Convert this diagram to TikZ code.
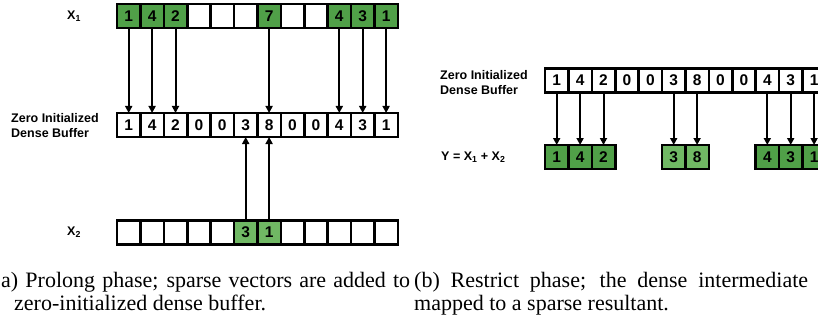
\documentclass[tikz,border=0pt]{standalone}
\usepackage{fontspec}
\setmainfont{Liberation Serif}
\setsansfont{Liberation Sans}
\usetikzlibrary{arrows.meta}
\usepackage{xcolor}

\definecolor{gdark}{RGB}{80,160,72}
\definecolor{glight}{RGB}{112,184,100}

\begin{document}
\begin{tikzpicture}[
    x=1pt, y=-1pt,
    every node/.style={font=\sffamily},
    cell/.style={
        draw=black,
        fill=#1,
        line width=2.6pt,
        minimum width=23.4pt,
        minimum height=24pt,
        inner sep=0pt,
        outer sep=0pt,
        font=\sffamily\bfseries\fontsize{15.5}{15.5}\selectfont,
    },
    cell/.default=white,
    lbl/.style={
        font=\sffamily\bfseries\fontsize{12.5}{15}\selectfont,
        align=left,
        anchor=west,
        inner sep=0pt,
    },
    arr/.style={-{Triangle[length=7pt, width=7pt]}, line width=2pt},
    captext/.style={
        font=\rmfamily\fontsize{22}{22}\selectfont,
        anchor=base west,
        inner sep=0pt,
    },
]

\path[use as bounding box, fill=white] (0,0) rectangle (818,326);
\clip (0,0) rectangle (818,326);

% (a) prolong: two sparse inputs and the buffer between them
\foreach \v/\c [count=\i from 0] in {1/gdark, 4/gdark, 2/gdark, {}/white, {}/white, {}/white,
        7/gdark, {}/white, {}/white, 4/gdark, 3/gdark, 1/gdark}
    \node[cell=\c] (xa\i) at ({128.7+23.4*\i},16) {\v};

\foreach \v [count=\i from 0] in {1,4,2,0,0,3,8,0,0,4,3,1}
    \node[cell] (bufa\i) at ({128.7+23.4*\i},125) {\v};

\foreach \v/\c [count=\i from 0] in {{}/white, {}/white, {}/white, {}/white, {}/white,
        3/glight, 1/glight, {}/white, {}/white, {}/white, {}/white, {}/white}
    \node[cell=\c] (xb\i) at ({128.7+23.4*\i},232.5) {\v};

\node[lbl] (x1lbl) at (67,16) {X\textsubscript{1}};
\node[lbl] (bufalbl) at (11,126) {Zero Initialized\\Dense Buffer};
\node[lbl] (x2lbl) at (67,232.5) {X\textsubscript{2}};

\foreach \i in {0,1,2,6,9,10,11}
    \draw[arr] (xa\i) -- (bufa\i);
\foreach \i in {5,6}
    \draw[arr] (xb\i) -- (bufa\i);

% (b) restrict: buffer gathered into the sparse result
\foreach \v [count=\i from 0] in {1,4,2,0,0,3,8,0,0,4,3,1}
    \node[cell] (bufb\i) at ({556.7+23.4*\i},80.5) {\v};

\foreach \i/\v/\c in {0/1/gdark, 1/4/gdark, 2/2/gdark, 5/3/glight, 6/8/glight,
        9/4/gdark, 10/3/gdark, 11/1/gdark}
    \node[cell=\c] (y\i) at ({556.7+23.4*\i},157) {\v};

\node[lbl] (bufblbl) at (440,83) {Zero Initialized\\Dense Buffer};
\node[lbl] (ylbl) at (441,157) {Y = X\textsubscript{1} + X\textsubscript{2}};

\foreach \i in {0,1,2,5,6,9,10,11}
    \draw[arr] (bufb\i) -- (y\i);

% sub-captions
\node[captext] (capa1) at (1,287) {\makebox[409pt][s]{a) Prolong phase; sparse vectors are added to}};
\node[captext] (capa2) at (14,310) {zero-initialized dense buffer.};
\node[captext] (capb1) at (414,287) {\makebox[394pt][s]{(b) Restrict phase; the dense intermediate}};
\node[captext] (capb2) at (414,310) {mapped to a sparse resultant.};

\end{tikzpicture}
\end{document}
